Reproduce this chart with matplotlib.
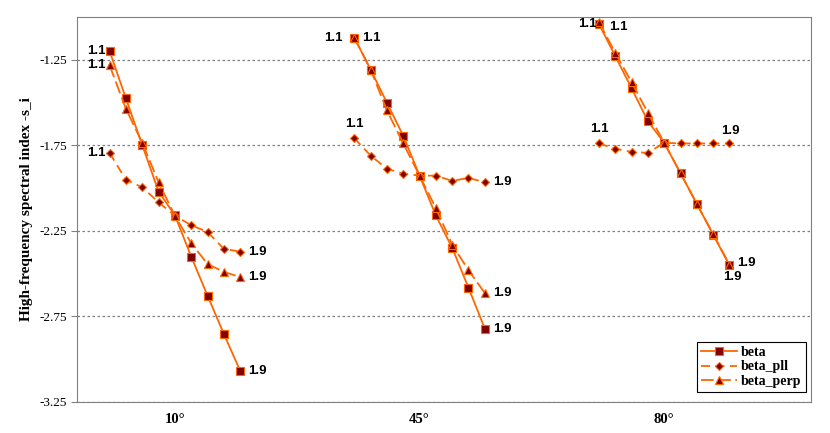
import matplotlib
matplotlib.use("Agg")
import matplotlib.pyplot as plt
import numpy as np

# exponent values 1.1 ... 1.9 for each angle group
angles = ["10°", "45°", "80°"]
exponents = ["1.1", "1.2", "1.3", "1.4", "1.5", "1.6", "1.7", "1.8", "1.9"]

beta_10 = [-1.20, -1.476, -1.749, -2.020, -2.159, -2.400, -2.628, -2.852, -3.067]
beta_pll_10 = [-1.794, -1.952, -1.995, -2.083, -2.161, -2.217, -2.256, -2.355, -2.371]
beta_perp_10 = [-1.283, -1.537, -1.735, -1.966, -2.162, -2.322, -2.443, -2.490, -2.519]

beta_45 = [-1.121, -1.307, -1.501, -1.694, -1.927, -2.160, -2.349, -2.582, -2.821]
beta_pll_45 = [-1.708, -1.810, -1.887, -1.915, -1.927, -1.927, -1.958, -1.940, -1.966]
beta_perp_45 = [-1.121, -1.307, -1.546, -1.739, -1.927, -2.116, -2.330, -2.480, -2.613]

beta_80 = [-1.040, -1.229, -1.416, -1.609, -1.735, -1.913, -2.092, -2.272, -2.451]
beta_pll_80 = [-1.739, -1.770, -1.788, -1.794, -1.735, -1.739, -1.739, -1.739, -1.739]
beta_perp_80 = [-1.030, -1.209, -1.381, -1.560, -1.735, -1.913, -2.092, -2.268, -2.447]

series = {
    "beta": [beta_10, beta_45, beta_80],
    "beta_pll": [beta_pll_10, beta_pll_45, beta_pll_80],
    "beta_perp": [beta_perp_10, beta_perp_45, beta_perp_80],
}

yticks = [-3.25, -2.75, -2.25, -1.75, -1.25]

ORANGE = "#FF6600"
DARKRED = "#800000"
styles = {
    "beta": dict(marker="s", markersize=5.5, linestyle="-"),
    "beta_pll": dict(marker="D", markersize=4, dashes=(5, 3)),
    "beta_perp": dict(marker="^", markersize=5.5, dashes=(7, 2.5)),
}

# where the end labels go (pixel offsets, alignment), per series per group
label_pos = {
    "beta": [((-4, 0), "right", "center"), ((-12, 0), "right", "center"), ((-2, 0), "right", "center")],
    "beta_pll": [((-4, 0), "right", "center"), ((0, 8), "center", "bottom"), ((0, 8), "center", "bottom")],
    "beta_perp": [((-4, 0), "right", "center"), ((8, 0), "left", "center"), ((10, -5), "left", "center")],
}
label_pos_end = {
    "beta": [((8, 0), "left", "center"), ((8, 0), "left", "center"), ((-6, -6), "left", "top")],
    "beta_pll": [((8, 0), "left", "center"), ((8, 0), "left", "center"), ((-8, 6), "left", "bottom")],
    "beta_perp": [((8, 0), "left", "center"), ((8, 0), "left", "center"), ((8, 2), "left", "center")],
}

group_step = 15
n = len(exponents)

fig = plt.figure(figsize=(8.3, 4.33), dpi=100)
ax = fig.add_axes([0.0928, 0.0716, 0.8843, 0.8891])

for name, groups in series.items():
    st = styles[name]
    for g, vals in enumerate(groups):
        x = np.arange(n) + g * group_step
        ax.plot(x, vals, color=ORANGE, lw=1.3, markerfacecolor=DARKRED,
                markeredgecolor=ORANGE, markeredgewidth=0.8,
                label=name if g == 0 else None, **st)
        (dx, dy), ha, va = label_pos[name][g]
        ax.annotate(exponents[0], (x[0], vals[0]), xytext=(dx, dy),
                    textcoords="offset pixels", ha=ha, va=va,
                    fontsize=9.5, fontweight="bold", family="Liberation Sans")
        (dx, dy), ha, va = label_pos_end[name][g]
        ax.annotate(exponents[-1], (x[-1], vals[-1]), xytext=(dx, dy),
                    textcoords="offset pixels", ha=ha, va=va,
                    fontsize=9.5, fontweight="bold", family="Liberation Sans")

ax.set_xlim(-2, 43)
ax.set_ylim(-3.25, -1.0)
ax.set_yticks(yticks)
ax.set_yticklabels([f"{v:.2f}" for v in yticks], family="Liberation Serif", fontsize=9.5)
ax.set_xticks([4 + g * group_step for g in range(len(angles))])
ax.set_xticklabels(angles, family="Liberation Serif", fontsize=10.5, fontweight="bold")
ax.tick_params(axis="x", length=0, pad=8)
ax.tick_params(axis="y", length=4, color="#808080", pad=3)
ax.yaxis.grid(True, linestyle=(0, (2, 2)), color="#808080", lw=0.9)
ax.set_axisbelow(True)
for sp in ax.spines.values():
    sp.set_color("#808080")
ax.set_ylabel("High-frequency spectral index -s_i", family="Liberation Serif",
              fontsize=11, fontweight="bold", labelpad=5)

leg = ax.legend(loc="lower right", bbox_to_anchor=(0.993, 0.026), borderaxespad=0,
                fancybox=False, edgecolor="black", framealpha=1, borderpad=0.3,
                labelspacing=0.1, handlelength=2.6, handletextpad=0.3,
                prop={"family": "Liberation Serif", "weight": "bold", "size": 10})
leg.get_frame().set_linewidth(0.8)

fig.savefig("out.png", dpi=100)
